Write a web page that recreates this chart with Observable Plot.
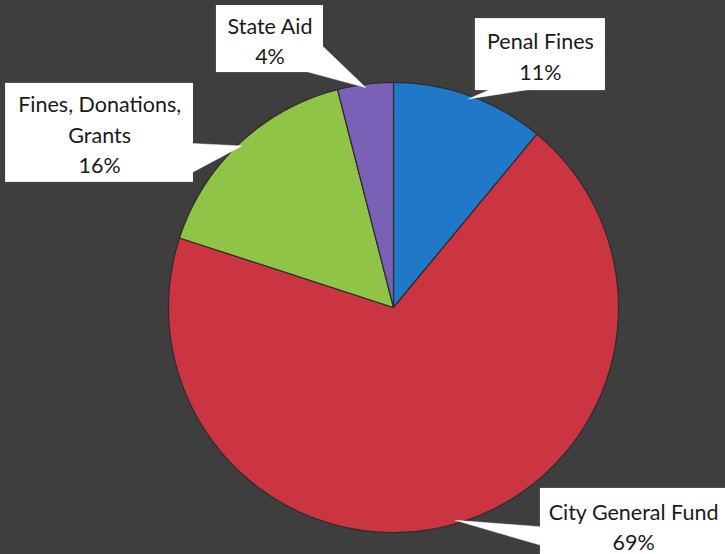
<!DOCTYPE html>
<html>
<head>
<meta charset="utf-8">
<script src="https://cdn.jsdelivr.net/npm/d3@7"></script>
<script src="https://cdn.jsdelivr.net/npm/@observablehq/plot@0.6"></script>
<style>
  html, body { margin: 0; padding: 0; background: #3e3e3e; }
  #chart svg { display: block; }
</style>
</head>
<body>
<div id="chart"></div>
<script>
// Funding sources, in drawing order (clockwise from 12 o'clock)
const categories = ["Penal Fines", "City General Fund", "Fines, Donations, Grants", "State Aid"];
const shares = [11, 69, 16, 4];
const labelLines = ["Penal Fines", "City General Fund", "Fines, Donations,\nGrants", "State Aid"];
const colors = ["#1f78c8", "#cb3542", "#90c446", "#7a60b6"];

// Callout layout, in pie-radius units relative to the pie centre:
// box extent [x1, x2, y1, y2], text centre x, and the two points where the pointer leaves the box.
const calloutBoxes = [
  [0.364, 0.942, 0.964, 1.284],
  [0.653, 1.52, -1.13, -0.804],
  [-1.724, -0.889, 0.556, 0.996],
  [-0.787, -0.311, 1.044, 1.342]
];
const textCentersX = [0.653, 1.067, -1.306, -0.549];
const pointerBases = [
  [[0.431, 0.97], [0.609, 0.97]],
  [[0.66, -0.975], [0.66, -1.058]],
  [[-0.895, 0.729], [-0.895, 0.6]],
  [[-0.318, 1.164], [-0.391, 1.05]]
];

const total = d3.sum(shares);
const rows = categories.map((name, i) => ({name, value: shares[i], label: labelLines[i]}));

// Start/end angles (radians, clockwise from top)
let acc = 0;
rows.forEach(r => {
  r.a0 = acc / total * 2 * Math.PI;
  acc += r.value;
  r.a1 = acc / total * 2 * Math.PI;
  r.mid = (r.a0 + r.a1) / 2;
});

// Polygon outline for each wedge
const wedgePts = rows.flatMap(r => {
  const n = Math.max(4, Math.ceil((r.a1 - r.a0) / (Math.PI / 360)));
  const pts = [{name: r.name, x: 0, y: 0}];
  for (let k = 0; k <= n; k++) {
    const a = r.a0 + (r.a1 - r.a0) * k / n;
    pts.push({name: r.name, x: Math.sin(a), y: Math.cos(a)});
  }
  pts.push({name: r.name, x: 0, y: 0});
  return pts;
});

// Callout pointers: triangle from the box to the wedge's mid-arc
const pointerPts = rows.flatMap((r, i) => {
  const tip = {x: 0.985 * Math.sin(r.mid), y: 0.985 * Math.cos(r.mid)};
  const [b0, b1] = pointerBases[i];
  return [
    {name: r.name, x: b0[0], y: b0[1]},
    {name: r.name, x: tip.x, y: tip.y},
    {name: r.name, x: b1[0], y: b1[1]}
  ];
});

const boxes = rows.map((r, i) => {
  const [x1, x2, y1, y2] = calloutBoxes[i];
  return {...r, x1, x2, y1, y2, cx: textCentersX[i], cy: (y1 + y2) / 2};
});

const plot = Plot.plot({
  width: 725,
  height: 554,
  x: {domain: [-1, 1], range: [168, 618], axis: null},
  y: {domain: [-1, 1], range: [532, 82], axis: null},
  color: {domain: categories, range: colors},
  style: {background: "#3e3e3e", overflow: "visible"},
  marks: [
    Plot.line(wedgePts, {
      x: "x", y: "y", z: "name", fill: "name",
      stroke: "#2c2c30", strokeWidth: 1.2, strokeLinejoin: "round", curve: "linear"
    }),
    Plot.line(pointerPts, {x: "x", y: "y", z: "name", fill: "white", stroke: "white", strokeWidth: 0.5, curve: "linear"}),
    Plot.rect(boxes, {x1: "x1", x2: "x2", y1: "y1", y2: "y2", fill: "white"}),
    Plot.text(boxes, {
      x: "cx", y: "cy",
      text: d => `${d.label}\n${d.value}%`,
      fontSize: 21.5, fontFamily: "Lato, 'Open Sans', sans-serif",
      fill: "#1a1a1a", lineHeight: 1.42, textAnchor: "middle", lineAnchor: "middle"
    })
  ]
});

document.getElementById("chart").appendChild(plot);
</script>
</body>
</html>
